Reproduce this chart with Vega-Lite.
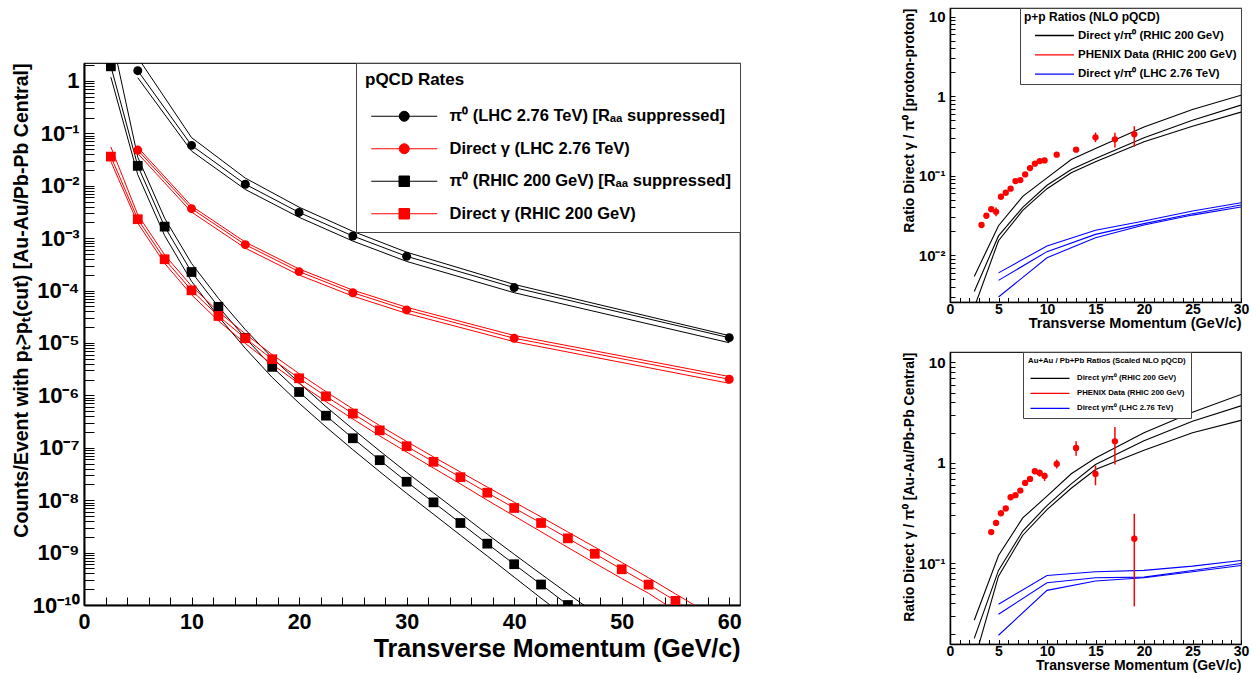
{
"$schema": "https://vega.github.io/schema/vega-lite/v6.json",
"background": "white",
"padding": {"left": 10, "top": 6, "right": 0, "bottom": 0},
"config": {
  "font": "Liberation Sans",
  "view": {"stroke": "#222222", "strokeWidth": 1.2},
  "axis": {"grid": false, "labelFont": "Liberation Sans", "titleFont": "Liberation Sans", "labelFontWeight": "bold", "titleFontWeight": "bold", "labelColor": "#000000", "titleColor": "#000000", "tickColor": "#000000", "domainColor": "#000000", "labelOverlap": false, "labelFlush": false, "tickWidth": 1},
  "legend": {"labelFont": "Liberation Sans", "titleFont": "Liberation Sans", "labelFontWeight": "bold", "titleFontWeight": "bold", "labelColor": "#000000", "titleColor": "#000000", "labelLimit": 600, "titleLimit": 600}
},
"datasets": {
"rates": [
{"series":"π⁰ (LHC 2.76 TeV) [Rₐₐ suppressed]","band":"upper","x":5,"y":2.8},
{"series":"π⁰ (LHC 2.76 TeV) [Rₐₐ suppressed]","band":"upper","x":10,"y":0.083},
{"series":"π⁰ (LHC 2.76 TeV) [Rₐₐ suppressed]","band":"upper","x":15,"y":0.014},
{"series":"π⁰ (LHC 2.76 TeV) [Rₐₐ suppressed]","band":"upper","x":20,"y":0.0039},
{"series":"π⁰ (LHC 2.76 TeV) [Rₐₐ suppressed]","band":"upper","x":25,"y":0.00135},
{"series":"π⁰ (LHC 2.76 TeV) [Rₐₐ suppressed]","band":"upper","x":30,"y":0.00054},
{"series":"π⁰ (LHC 2.76 TeV) [Rₐₐ suppressed]","band":"upper","x":40,"y":0.000131},
{"series":"π⁰ (LHC 2.76 TeV) [Rₐₐ suppressed]","band":"upper","x":60,"y":0.0000138},
{"series":"π⁰ (LHC 2.76 TeV) [Rₐₐ suppressed]","band":"central","x":5,"y":1.57},
{"series":"π⁰ (LHC 2.76 TeV) [Rₐₐ suppressed]","band":"central","x":10,"y":0.059},
{"series":"π⁰ (LHC 2.76 TeV) [Rₐₐ suppressed]","band":"central","x":15,"y":0.0107},
{"series":"π⁰ (LHC 2.76 TeV) [Rₐₐ suppressed]","band":"central","x":20,"y":0.0031},
{"series":"π⁰ (LHC 2.76 TeV) [Rₐₐ suppressed]","band":"central","x":25,"y":0.0011},
{"series":"π⁰ (LHC 2.76 TeV) [Rₐₐ suppressed]","band":"central","x":30,"y":0.00045},
{"series":"π⁰ (LHC 2.76 TeV) [Rₐₐ suppressed]","band":"central","x":40,"y":0.000114},
{"series":"π⁰ (LHC 2.76 TeV) [Rₐₐ suppressed]","band":"central","x":60,"y":0.0000126},
{"series":"π⁰ (LHC 2.76 TeV) [Rₐₐ suppressed]","band":"lower","x":5,"y":1.15},
{"series":"π⁰ (LHC 2.76 TeV) [Rₐₐ suppressed]","band":"lower","x":10,"y":0.046},
{"series":"π⁰ (LHC 2.76 TeV) [Rₐₐ suppressed]","band":"lower","x":15,"y":0.0085},
{"series":"π⁰ (LHC 2.76 TeV) [Rₐₐ suppressed]","band":"lower","x":20,"y":0.0025},
{"series":"π⁰ (LHC 2.76 TeV) [Rₐₐ suppressed]","band":"lower","x":25,"y":0.00088},
{"series":"π⁰ (LHC 2.76 TeV) [Rₐₐ suppressed]","band":"lower","x":30,"y":0.00036},
{"series":"π⁰ (LHC 2.76 TeV) [Rₐₐ suppressed]","band":"lower","x":40,"y":0.000091},
{"series":"π⁰ (LHC 2.76 TeV) [Rₐₐ suppressed]","band":"lower","x":60,"y":0.0000101},
{"series":"Direct γ (LHC 2.76 TeV)","band":"upper","x":5,"y":0.054},
{"series":"Direct γ (LHC 2.76 TeV)","band":"upper","x":10,"y":0.0041},
{"series":"Direct γ (LHC 2.76 TeV)","band":"upper","x":15,"y":0.00084},
{"series":"Direct γ (LHC 2.76 TeV)","band":"upper","x":20,"y":0.000258},
{"series":"Direct γ (LHC 2.76 TeV)","band":"upper","x":25,"y":0.000102},
{"series":"Direct γ (LHC 2.76 TeV)","band":"upper","x":30,"y":0.000048},
{"series":"Direct γ (LHC 2.76 TeV)","band":"upper","x":40,"y":0.0000139},
{"series":"Direct γ (LHC 2.76 TeV)","band":"upper","x":60,"y":0.00000229},
{"series":"Direct γ (LHC 2.76 TeV)","band":"central","x":5,"y":0.048},
{"series":"Direct γ (LHC 2.76 TeV)","band":"central","x":10,"y":0.00366},
{"series":"Direct γ (LHC 2.76 TeV)","band":"central","x":15,"y":0.00075},
{"series":"Direct γ (LHC 2.76 TeV)","band":"central","x":20,"y":0.00023},
{"series":"Direct γ (LHC 2.76 TeV)","band":"central","x":25,"y":0.000091},
{"series":"Direct γ (LHC 2.76 TeV)","band":"central","x":30,"y":0.0000427},
{"series":"Direct γ (LHC 2.76 TeV)","band":"central","x":40,"y":0.0000123},
{"series":"Direct γ (LHC 2.76 TeV)","band":"central","x":60,"y":0.00000203},
{"series":"Direct γ (LHC 2.76 TeV)","band":"lower","x":5,"y":0.0413},
{"series":"Direct γ (LHC 2.76 TeV)","band":"lower","x":10,"y":0.00315},
{"series":"Direct γ (LHC 2.76 TeV)","band":"lower","x":15,"y":0.000645},
{"series":"Direct γ (LHC 2.76 TeV)","band":"lower","x":20,"y":0.000198},
{"series":"Direct γ (LHC 2.76 TeV)","band":"lower","x":25,"y":0.0000783},
{"series":"Direct γ (LHC 2.76 TeV)","band":"lower","x":30,"y":0.0000367},
{"series":"Direct γ (LHC 2.76 TeV)","band":"lower","x":40,"y":0.0000106},
{"series":"Direct γ (LHC 2.76 TeV)","band":"lower","x":60,"y":0.0000017},
{"series":"π⁰ (RHIC 200 GeV) [Rₐₐ suppressed]","band":"upper","x":2.5,"y":8.2},
{"series":"π⁰ (RHIC 200 GeV) [Rₐₐ suppressed]","band":"upper","x":5,"y":0.035},
{"series":"π⁰ (RHIC 200 GeV) [Rₐₐ suppressed]","band":"upper","x":7.5,"y":0.0024},
{"series":"π⁰ (RHIC 200 GeV) [Rₐₐ suppressed]","band":"upper","x":10,"y":0.00033},
{"series":"π⁰ (RHIC 200 GeV) [Rₐₐ suppressed]","band":"upper","x":12.5,"y":0.000071},
{"series":"π⁰ (RHIC 200 GeV) [Rₐₐ suppressed]","band":"upper","x":15,"y":0.000018},
{"series":"π⁰ (RHIC 200 GeV) [Rₐₐ suppressed]","band":"upper","x":17.5,"y":0.0000052},
{"series":"π⁰ (RHIC 200 GeV) [Rₐₐ suppressed]","band":"upper","x":20,"y":0.00000174},
{"series":"π⁰ (RHIC 200 GeV) [Rₐₐ suppressed]","band":"upper","x":22.5,"y":6.1e-7},
{"series":"π⁰ (RHIC 200 GeV) [Rₐₐ suppressed]","band":"upper","x":25,"y":2.28e-7},
{"series":"π⁰ (RHIC 200 GeV) [Rₐₐ suppressed]","band":"upper","x":27.5,"y":8.7e-8},
{"series":"π⁰ (RHIC 200 GeV) [Rₐₐ suppressed]","band":"upper","x":30,"y":3.4e-8},
{"series":"π⁰ (RHIC 200 GeV) [Rₐₐ suppressed]","band":"upper","x":32.5,"y":1.38e-8},
{"series":"π⁰ (RHIC 200 GeV) [Rₐₐ suppressed]","band":"upper","x":35,"y":5.6e-9},
{"series":"π⁰ (RHIC 200 GeV) [Rₐₐ suppressed]","band":"upper","x":37.5,"y":2.25e-9},
{"series":"π⁰ (RHIC 200 GeV) [Rₐₐ suppressed]","band":"upper","x":40,"y":9.3e-10},
{"series":"π⁰ (RHIC 200 GeV) [Rₐₐ suppressed]","band":"upper","x":42.5,"y":3.9e-10},
{"series":"π⁰ (RHIC 200 GeV) [Rₐₐ suppressed]","band":"upper","x":45,"y":1.65e-10},
{"series":"π⁰ (RHIC 200 GeV) [Rₐₐ suppressed]","band":"upper","x":47.5,"y":7.0e-11},
{"series":"π⁰ (RHIC 200 GeV) [Rₐₐ suppressed]","band":"central","x":2.5,"y":1.9},
{"series":"π⁰ (RHIC 200 GeV) [Rₐₐ suppressed]","band":"central","x":5,"y":0.024},
{"series":"π⁰ (RHIC 200 GeV) [Rₐₐ suppressed]","band":"central","x":7.5,"y":0.00166},
{"series":"π⁰ (RHIC 200 GeV) [Rₐₐ suppressed]","band":"central","x":10,"y":0.000226},
{"series":"π⁰ (RHIC 200 GeV) [Rₐₐ suppressed]","band":"central","x":12.5,"y":0.000049},
{"series":"π⁰ (RHIC 200 GeV) [Rₐₐ suppressed]","band":"central","x":15,"y":0.0000125},
{"series":"π⁰ (RHIC 200 GeV) [Rₐₐ suppressed]","band":"central","x":17.5,"y":0.0000035},
{"series":"π⁰ (RHIC 200 GeV) [Rₐₐ suppressed]","band":"central","x":20,"y":0.00000116},
{"series":"π⁰ (RHIC 200 GeV) [Rₐₐ suppressed]","band":"central","x":22.5,"y":4.1e-7},
{"series":"π⁰ (RHIC 200 GeV) [Rₐₐ suppressed]","band":"central","x":25,"y":1.52e-7},
{"series":"π⁰ (RHIC 200 GeV) [Rₐₐ suppressed]","band":"central","x":27.5,"y":5.8e-8},
{"series":"π⁰ (RHIC 200 GeV) [Rₐₐ suppressed]","band":"central","x":30,"y":2.25e-8},
{"series":"π⁰ (RHIC 200 GeV) [Rₐₐ suppressed]","band":"central","x":32.5,"y":9.1e-9},
{"series":"π⁰ (RHIC 200 GeV) [Rₐₐ suppressed]","band":"central","x":35,"y":3.67e-9},
{"series":"π⁰ (RHIC 200 GeV) [Rₐₐ suppressed]","band":"central","x":37.5,"y":1.48e-9},
{"series":"π⁰ (RHIC 200 GeV) [Rₐₐ suppressed]","band":"central","x":40,"y":6.0e-10},
{"series":"π⁰ (RHIC 200 GeV) [Rₐₐ suppressed]","band":"central","x":42.5,"y":2.46e-10},
{"series":"π⁰ (RHIC 200 GeV) [Rₐₐ suppressed]","band":"central","x":45,"y":1.0e-10},
{"series":"π⁰ (RHIC 200 GeV) [Rₐₐ suppressed]","band":"lower","x":2.5,"y":1.18},
{"series":"π⁰ (RHIC 200 GeV) [Rₐₐ suppressed]","band":"lower","x":5,"y":0.0163},
{"series":"π⁰ (RHIC 200 GeV) [Rₐₐ suppressed]","band":"lower","x":7.5,"y":0.00112},
{"series":"π⁰ (RHIC 200 GeV) [Rₐₐ suppressed]","band":"lower","x":10,"y":0.00015},
{"series":"π⁰ (RHIC 200 GeV) [Rₐₐ suppressed]","band":"lower","x":12.5,"y":0.000032},
{"series":"π⁰ (RHIC 200 GeV) [Rₐₐ suppressed]","band":"lower","x":15,"y":0.0000079},
{"series":"π⁰ (RHIC 200 GeV) [Rₐₐ suppressed]","band":"lower","x":17.5,"y":0.0000022},
{"series":"π⁰ (RHIC 200 GeV) [Rₐₐ suppressed]","band":"lower","x":20,"y":7.1e-7},
{"series":"π⁰ (RHIC 200 GeV) [Rₐₐ suppressed]","band":"lower","x":22.5,"y":2.5e-7},
{"series":"π⁰ (RHIC 200 GeV) [Rₐₐ suppressed]","band":"lower","x":25,"y":9.2e-8},
{"series":"π⁰ (RHIC 200 GeV) [Rₐₐ suppressed]","band":"lower","x":27.5,"y":3.5e-8},
{"series":"π⁰ (RHIC 200 GeV) [Rₐₐ suppressed]","band":"lower","x":30,"y":1.35e-8},
{"series":"π⁰ (RHIC 200 GeV) [Rₐₐ suppressed]","band":"lower","x":32.5,"y":5.4e-9},
{"series":"π⁰ (RHIC 200 GeV) [Rₐₐ suppressed]","band":"lower","x":35,"y":2.15e-9},
{"series":"π⁰ (RHIC 200 GeV) [Rₐₐ suppressed]","band":"lower","x":37.5,"y":8.6e-10},
{"series":"π⁰ (RHIC 200 GeV) [Rₐₐ suppressed]","band":"lower","x":40,"y":3.4e-10},
{"series":"π⁰ (RHIC 200 GeV) [Rₐₐ suppressed]","band":"lower","x":42.5,"y":1.35e-10},
{"series":"π⁰ (RHIC 200 GeV) [Rₐₐ suppressed]","band":"lower","x":45,"y":5.5e-11},
{"series":"Direct γ (RHIC 200 GeV)","band":"upper","x":2.5,"y":0.055},
{"series":"Direct γ (RHIC 200 GeV)","band":"upper","x":5,"y":0.0028},
{"series":"Direct γ (RHIC 200 GeV)","band":"upper","x":7.5,"y":0.00048},
{"series":"Direct γ (RHIC 200 GeV)","band":"upper","x":10,"y":0.000122},
{"series":"Direct γ (RHIC 200 GeV)","band":"upper","x":12.5,"y":0.0000395},
{"series":"Direct γ (RHIC 200 GeV)","band":"upper","x":15,"y":0.0000149},
{"series":"Direct γ (RHIC 200 GeV)","band":"upper","x":17.5,"y":0.000006},
{"series":"Direct γ (RHIC 200 GeV)","band":"upper","x":20,"y":0.0000026},
{"series":"Direct γ (RHIC 200 GeV)","band":"upper","x":22.5,"y":0.00000118},
{"series":"Direct γ (RHIC 200 GeV)","band":"upper","x":25,"y":5.5e-7},
{"series":"Direct γ (RHIC 200 GeV)","band":"upper","x":27.5,"y":2.65e-7},
{"series":"Direct γ (RHIC 200 GeV)","band":"upper","x":30,"y":1.32e-7},
{"series":"Direct γ (RHIC 200 GeV)","band":"upper","x":32.5,"y":6.7e-8},
{"series":"Direct γ (RHIC 200 GeV)","band":"upper","x":35,"y":3.45e-8},
{"series":"Direct γ (RHIC 200 GeV)","band":"upper","x":37.5,"y":1.78e-8},
{"series":"Direct γ (RHIC 200 GeV)","band":"upper","x":40,"y":9.2e-9},
{"series":"Direct γ (RHIC 200 GeV)","band":"upper","x":42.5,"y":4.8e-9},
{"series":"Direct γ (RHIC 200 GeV)","band":"upper","x":45,"y":2.47e-9},
{"series":"Direct γ (RHIC 200 GeV)","band":"upper","x":47.5,"y":1.27e-9},
{"series":"Direct γ (RHIC 200 GeV)","band":"upper","x":50,"y":6.5e-10},
{"series":"Direct γ (RHIC 200 GeV)","band":"upper","x":52.5,"y":3.3e-10},
{"series":"Direct γ (RHIC 200 GeV)","band":"upper","x":55,"y":1.63e-10},
{"series":"Direct γ (RHIC 200 GeV)","band":"upper","x":57.5,"y":8.1e-11},
{"series":"Direct γ (RHIC 200 GeV)","band":"central","x":2.5,"y":0.036},
{"series":"Direct γ (RHIC 200 GeV)","band":"central","x":5,"y":0.0023},
{"series":"Direct γ (RHIC 200 GeV)","band":"central","x":7.5,"y":0.000396},
{"series":"Direct γ (RHIC 200 GeV)","band":"central","x":10,"y":0.000101},
{"series":"Direct γ (RHIC 200 GeV)","band":"central","x":12.5,"y":0.0000327},
{"series":"Direct γ (RHIC 200 GeV)","band":"central","x":15,"y":0.0000123},
{"series":"Direct γ (RHIC 200 GeV)","band":"central","x":17.5,"y":0.0000049},
{"series":"Direct γ (RHIC 200 GeV)","band":"central","x":20,"y":0.00000212},
{"series":"Direct γ (RHIC 200 GeV)","band":"central","x":22.5,"y":9.6e-7},
{"series":"Direct γ (RHIC 200 GeV)","band":"central","x":25,"y":4.5e-7},
{"series":"Direct γ (RHIC 200 GeV)","band":"central","x":27.5,"y":2.15e-7},
{"series":"Direct γ (RHIC 200 GeV)","band":"central","x":30,"y":1.07e-7},
{"series":"Direct γ (RHIC 200 GeV)","band":"central","x":32.5,"y":5.4e-8},
{"series":"Direct γ (RHIC 200 GeV)","band":"central","x":35,"y":2.75e-8},
{"series":"Direct γ (RHIC 200 GeV)","band":"central","x":37.5,"y":1.39e-8},
{"series":"Direct γ (RHIC 200 GeV)","band":"central","x":40,"y":7.1e-9},
{"series":"Direct γ (RHIC 200 GeV)","band":"central","x":42.5,"y":3.67e-9},
{"series":"Direct γ (RHIC 200 GeV)","band":"central","x":45,"y":1.87e-9},
{"series":"Direct γ (RHIC 200 GeV)","band":"central","x":47.5,"y":9.5e-10},
{"series":"Direct γ (RHIC 200 GeV)","band":"central","x":50,"y":4.8e-10},
{"series":"Direct γ (RHIC 200 GeV)","band":"central","x":52.5,"y":2.45e-10},
{"series":"Direct γ (RHIC 200 GeV)","band":"central","x":55,"y":1.2e-10},
{"series":"Direct γ (RHIC 200 GeV)","band":"lower","x":2.5,"y":0.029},
{"series":"Direct γ (RHIC 200 GeV)","band":"lower","x":5,"y":0.00193},
{"series":"Direct γ (RHIC 200 GeV)","band":"lower","x":7.5,"y":0.00033},
{"series":"Direct γ (RHIC 200 GeV)","band":"lower","x":10,"y":0.000083},
{"series":"Direct γ (RHIC 200 GeV)","band":"lower","x":12.5,"y":0.0000265},
{"series":"Direct γ (RHIC 200 GeV)","band":"lower","x":15,"y":0.0000098},
{"series":"Direct γ (RHIC 200 GeV)","band":"lower","x":17.5,"y":0.0000039},
{"series":"Direct γ (RHIC 200 GeV)","band":"lower","x":20,"y":0.00000168},
{"series":"Direct γ (RHIC 200 GeV)","band":"lower","x":22.5,"y":7.6e-7},
{"series":"Direct γ (RHIC 200 GeV)","band":"lower","x":25,"y":3.55e-7},
{"series":"Direct γ (RHIC 200 GeV)","band":"lower","x":27.5,"y":1.68e-7},
{"series":"Direct γ (RHIC 200 GeV)","band":"lower","x":30,"y":8.3e-8},
{"series":"Direct γ (RHIC 200 GeV)","band":"lower","x":32.5,"y":4.1e-8},
{"series":"Direct γ (RHIC 200 GeV)","band":"lower","x":35,"y":2.05e-8},
{"series":"Direct γ (RHIC 200 GeV)","band":"lower","x":37.5,"y":1.0e-8},
{"series":"Direct γ (RHIC 200 GeV)","band":"lower","x":40,"y":5.0e-9},
{"series":"Direct γ (RHIC 200 GeV)","band":"lower","x":42.5,"y":2.5e-9},
{"series":"Direct γ (RHIC 200 GeV)","band":"lower","x":45,"y":1.25e-9},
{"series":"Direct γ (RHIC 200 GeV)","band":"lower","x":47.5,"y":6.3e-10},
{"series":"Direct γ (RHIC 200 GeV)","band":"lower","x":50,"y":3.2e-10},
{"series":"Direct γ (RHIC 200 GeV)","band":"lower","x":52.5,"y":1.67e-10},
{"series":"Direct γ (RHIC 200 GeV)","band":"lower","x":55,"y":7.8e-11}
],
"pp": [
{"curve":"Direct γ/π⁰ (RHIC 200 GeV)","band":"upper","x":2.5,"y":0.0054},
{"curve":"Direct γ/π⁰ (RHIC 200 GeV)","band":"upper","x":5,"y":0.0235},
{"curve":"Direct γ/π⁰ (RHIC 200 GeV)","band":"upper","x":7.5,"y":0.055},
{"curve":"Direct γ/π⁰ (RHIC 200 GeV)","band":"upper","x":10,"y":0.094},
{"curve":"Direct γ/π⁰ (RHIC 200 GeV)","band":"upper","x":12.5,"y":0.16},
{"curve":"Direct γ/π⁰ (RHIC 200 GeV)","band":"upper","x":15,"y":0.22},
{"curve":"Direct γ/π⁰ (RHIC 200 GeV)","band":"upper","x":20,"y":0.41},
{"curve":"Direct γ/π⁰ (RHIC 200 GeV)","band":"upper","x":25,"y":0.68},
{"curve":"Direct γ/π⁰ (RHIC 200 GeV)","band":"upper","x":30,"y":1.03},
{"curve":"Direct γ/π⁰ (RHIC 200 GeV)","band":"central","x":2.5,"y":0.0035},
{"curve":"Direct γ/π⁰ (RHIC 200 GeV)","band":"central","x":5,"y":0.0175},
{"curve":"Direct γ/π⁰ (RHIC 200 GeV)","band":"central","x":7.5,"y":0.04},
{"curve":"Direct γ/π⁰ (RHIC 200 GeV)","band":"central","x":10,"y":0.076},
{"curve":"Direct γ/π⁰ (RHIC 200 GeV)","band":"central","x":12.5,"y":0.12},
{"curve":"Direct γ/π⁰ (RHIC 200 GeV)","band":"central","x":15,"y":0.165},
{"curve":"Direct γ/π⁰ (RHIC 200 GeV)","band":"central","x":20,"y":0.3},
{"curve":"Direct γ/π⁰ (RHIC 200 GeV)","band":"central","x":25,"y":0.5},
{"curve":"Direct γ/π⁰ (RHIC 200 GeV)","band":"central","x":30,"y":0.775},
{"curve":"Direct γ/π⁰ (RHIC 200 GeV)","band":"lower","x":2.5,"y":0.0022},
{"curve":"Direct γ/π⁰ (RHIC 200 GeV)","band":"lower","x":5,"y":0.0152},
{"curve":"Direct γ/π⁰ (RHIC 200 GeV)","band":"lower","x":7.5,"y":0.0367},
{"curve":"Direct γ/π⁰ (RHIC 200 GeV)","band":"lower","x":10,"y":0.0687},
{"curve":"Direct γ/π⁰ (RHIC 200 GeV)","band":"lower","x":12.5,"y":0.109},
{"curve":"Direct γ/π⁰ (RHIC 200 GeV)","band":"lower","x":15,"y":0.15},
{"curve":"Direct γ/π⁰ (RHIC 200 GeV)","band":"lower","x":20,"y":0.268},
{"curve":"Direct γ/π⁰ (RHIC 200 GeV)","band":"lower","x":25,"y":0.42},
{"curve":"Direct γ/π⁰ (RHIC 200 GeV)","band":"lower","x":30,"y":0.633},
{"curve":"Direct γ/π⁰ (LHC 2.76 TeV)","band":"upper","x":5,"y":0.006},
{"curve":"Direct γ/π⁰ (LHC 2.76 TeV)","band":"upper","x":10,"y":0.0131},
{"curve":"Direct γ/π⁰ (LHC 2.76 TeV)","band":"upper","x":15,"y":0.0206},
{"curve":"Direct γ/π⁰ (LHC 2.76 TeV)","band":"upper","x":20,"y":0.0269},
{"curve":"Direct γ/π⁰ (LHC 2.76 TeV)","band":"upper","x":25,"y":0.036},
{"curve":"Direct γ/π⁰ (LHC 2.76 TeV)","band":"upper","x":30,"y":0.0457},
{"curve":"Direct γ/π⁰ (LHC 2.76 TeV)","band":"central","x":5,"y":0.00483},
{"curve":"Direct γ/π⁰ (LHC 2.76 TeV)","band":"central","x":10,"y":0.0111},
{"curve":"Direct γ/π⁰ (LHC 2.76 TeV)","band":"central","x":15,"y":0.0183},
{"curve":"Direct γ/π⁰ (LHC 2.76 TeV)","band":"central","x":20,"y":0.025},
{"curve":"Direct γ/π⁰ (LHC 2.76 TeV)","band":"central","x":25,"y":0.0333},
{"curve":"Direct γ/π⁰ (LHC 2.76 TeV)","band":"central","x":30,"y":0.0428},
{"curve":"Direct γ/π⁰ (LHC 2.76 TeV)","band":"lower","x":5,"y":0.00298},
{"curve":"Direct γ/π⁰ (LHC 2.76 TeV)","band":"lower","x":10,"y":0.0093},
{"curve":"Direct γ/π⁰ (LHC 2.76 TeV)","band":"lower","x":15,"y":0.0166},
{"curve":"Direct γ/π⁰ (LHC 2.76 TeV)","band":"lower","x":20,"y":0.024},
{"curve":"Direct γ/π⁰ (LHC 2.76 TeV)","band":"lower","x":25,"y":0.032},
{"curve":"Direct γ/π⁰ (LHC 2.76 TeV)","band":"lower","x":30,"y":0.0404},
{"curve":"PHENIX Data (RHIC 200 GeV)","band":"data","x":3.25,"y":0.024,"lo":0.023,"hi":0.025},
{"curve":"PHENIX Data (RHIC 200 GeV)","band":"data","x":3.75,"y":0.0314,"lo":0.030,"hi":0.033},
{"curve":"PHENIX Data (RHIC 200 GeV)","band":"data","x":4.25,"y":0.038,"lo":0.036,"hi":0.040},
{"curve":"PHENIX Data (RHIC 200 GeV)","band":"data","x":4.75,"y":0.0352,"lo":0.031,"hi":0.040},
{"curve":"PHENIX Data (RHIC 200 GeV)","band":"data","x":5.25,"y":0.0544,"lo":0.052,"hi":0.057},
{"curve":"PHENIX Data (RHIC 200 GeV)","band":"data","x":5.75,"y":0.0611,"lo":0.058,"hi":0.064},
{"curve":"PHENIX Data (RHIC 200 GeV)","band":"data","x":6.25,"y":0.0687,"lo":0.065,"hi":0.072},
{"curve":"PHENIX Data (RHIC 200 GeV)","band":"data","x":6.75,"y":0.0858,"lo":0.082,"hi":0.09},
{"curve":"PHENIX Data (RHIC 200 GeV)","band":"data","x":7.25,"y":0.0883,"lo":0.084,"hi":0.093},
{"curve":"PHENIX Data (RHIC 200 GeV)","band":"data","x":7.75,"y":0.104,"lo":0.099,"hi":0.109},
{"curve":"PHENIX Data (RHIC 200 GeV)","band":"data","x":8.25,"y":0.125,"lo":0.119,"hi":0.131},
{"curve":"PHENIX Data (RHIC 200 GeV)","band":"data","x":8.75,"y":0.142,"lo":0.135,"hi":0.149},
{"curve":"PHENIX Data (RHIC 200 GeV)","band":"data","x":9.25,"y":0.153,"lo":0.145,"hi":0.161},
{"curve":"PHENIX Data (RHIC 200 GeV)","band":"data","x":9.75,"y":0.156,"lo":0.148,"hi":0.164},
{"curve":"PHENIX Data (RHIC 200 GeV)","band":"data","x":11,"y":0.184,"lo":0.175,"hi":0.193},
{"curve":"PHENIX Data (RHIC 200 GeV)","band":"data","x":13,"y":0.213,"lo":0.202,"hi":0.224},
{"curve":"PHENIX Data (RHIC 200 GeV)","band":"data","x":15,"y":0.304,"lo":0.265,"hi":0.35},
{"curve":"PHENIX Data (RHIC 200 GeV)","band":"data","x":17,"y":0.287,"lo":0.226,"hi":0.348},
{"curve":"PHENIX Data (RHIC 200 GeV)","band":"data","x":19,"y":0.332,"lo":0.232,"hi":0.42}
],
"aa": [
{"curve":"Direct γ/π⁰ (RHIC 200 GeV)","band":"upper","x":2.5,"y":0.0272},
{"curve":"Direct γ/π⁰ (RHIC 200 GeV)","band":"upper","x":5,"y":0.12},
{"curve":"Direct γ/π⁰ (RHIC 200 GeV)","band":"upper","x":7.5,"y":0.284},
{"curve":"Direct γ/π⁰ (RHIC 200 GeV)","band":"upper","x":10,"y":0.467},
{"curve":"Direct γ/π⁰ (RHIC 200 GeV)","band":"upper","x":12.5,"y":0.78},
{"curve":"Direct γ/π⁰ (RHIC 200 GeV)","band":"upper","x":15,"y":1.12},
{"curve":"Direct γ/π⁰ (RHIC 200 GeV)","band":"upper","x":20,"y":2.0},
{"curve":"Direct γ/π⁰ (RHIC 200 GeV)","band":"upper","x":25,"y":3.2},
{"curve":"Direct γ/π⁰ (RHIC 200 GeV)","band":"upper","x":30,"y":4.8},
{"curve":"Direct γ/π⁰ (RHIC 200 GeV)","band":"central","x":2.5,"y":0.018},
{"curve":"Direct γ/π⁰ (RHIC 200 GeV)","band":"central","x":5,"y":0.0853},
{"curve":"Direct γ/π⁰ (RHIC 200 GeV)","band":"central","x":7.5,"y":0.21},
{"curve":"Direct γ/π⁰ (RHIC 200 GeV)","band":"central","x":10,"y":0.377},
{"curve":"Direct γ/π⁰ (RHIC 200 GeV)","band":"central","x":12.5,"y":0.62},
{"curve":"Direct γ/π⁰ (RHIC 200 GeV)","band":"central","x":15,"y":0.964},
{"curve":"Direct γ/π⁰ (RHIC 200 GeV)","band":"central","x":20,"y":1.66},
{"curve":"Direct γ/π⁰ (RHIC 200 GeV)","band":"central","x":25,"y":2.6},
{"curve":"Direct γ/π⁰ (RHIC 200 GeV)","band":"central","x":30,"y":3.7},
{"curve":"Direct γ/π⁰ (RHIC 200 GeV)","band":"lower","x":2.5,"y":0.0107},
{"curve":"Direct γ/π⁰ (RHIC 200 GeV)","band":"lower","x":5,"y":0.0748},
{"curve":"Direct γ/π⁰ (RHIC 200 GeV)","band":"lower","x":7.5,"y":0.191},
{"curve":"Direct γ/π⁰ (RHIC 200 GeV)","band":"lower","x":10,"y":0.344},
{"curve":"Direct γ/π⁰ (RHIC 200 GeV)","band":"lower","x":12.5,"y":0.56},
{"curve":"Direct γ/π⁰ (RHIC 200 GeV)","band":"lower","x":15,"y":0.86},
{"curve":"Direct γ/π⁰ (RHIC 200 GeV)","band":"lower","x":20,"y":1.34},
{"curve":"Direct γ/π⁰ (RHIC 200 GeV)","band":"lower","x":25,"y":2.0},
{"curve":"Direct γ/π⁰ (RHIC 200 GeV)","band":"lower","x":30,"y":2.65},
{"curve":"Direct γ/π⁰ (LHC 2.76 TeV)","band":"upper","x":5,"y":0.0392},
{"curve":"Direct γ/π⁰ (LHC 2.76 TeV)","band":"upper","x":10,"y":0.076},
{"curve":"Direct γ/π⁰ (LHC 2.76 TeV)","band":"upper","x":15,"y":0.0826},
{"curve":"Direct γ/π⁰ (LHC 2.76 TeV)","band":"upper","x":20,"y":0.0853},
{"curve":"Direct γ/π⁰ (LHC 2.76 TeV)","band":"upper","x":25,"y":0.094},
{"curve":"Direct γ/π⁰ (LHC 2.76 TeV)","band":"upper","x":30,"y":0.107},
{"curve":"Direct γ/π⁰ (LHC 2.76 TeV)","band":"central","x":5,"y":0.0312},
{"curve":"Direct γ/π⁰ (LHC 2.76 TeV)","band":"central","x":10,"y":0.0643},
{"curve":"Direct γ/π⁰ (LHC 2.76 TeV)","band":"central","x":15,"y":0.072},
{"curve":"Direct γ/π⁰ (LHC 2.76 TeV)","band":"central","x":20,"y":0.0731},
{"curve":"Direct γ/π⁰ (LHC 2.76 TeV)","band":"central","x":25,"y":0.085},
{"curve":"Direct γ/π⁰ (LHC 2.76 TeV)","band":"central","x":30,"y":0.1},
{"curve":"Direct γ/π⁰ (LHC 2.76 TeV)","band":"lower","x":5,"y":0.0193},
{"curve":"Direct γ/π⁰ (LHC 2.76 TeV)","band":"lower","x":10,"y":0.054},
{"curve":"Direct γ/π⁰ (LHC 2.76 TeV)","band":"lower","x":15,"y":0.0668},
{"curve":"Direct γ/π⁰ (LHC 2.76 TeV)","band":"lower","x":20,"y":0.072},
{"curve":"Direct γ/π⁰ (LHC 2.76 TeV)","band":"lower","x":25,"y":0.0826},
{"curve":"Direct γ/π⁰ (LHC 2.76 TeV)","band":"lower","x":30,"y":0.0955},
{"curve":"PHENIX Data (RHIC 200 GeV)","band":"data","x":4.25,"y":0.205,"lo":0.196,"hi":0.214},
{"curve":"PHENIX Data (RHIC 200 GeV)","band":"data","x":4.75,"y":0.253,"lo":0.242,"hi":0.264},
{"curve":"PHENIX Data (RHIC 200 GeV)","band":"data","x":5.25,"y":0.316,"lo":0.302,"hi":0.33},
{"curve":"PHENIX Data (RHIC 200 GeV)","band":"data","x":5.75,"y":0.352,"lo":0.336,"hi":0.368},
{"curve":"PHENIX Data (RHIC 200 GeV)","band":"data","x":6.25,"y":0.456,"lo":0.436,"hi":0.476},
{"curve":"PHENIX Data (RHIC 200 GeV)","band":"data","x":6.75,"y":0.478,"lo":0.457,"hi":0.5},
{"curve":"PHENIX Data (RHIC 200 GeV)","band":"data","x":7.25,"y":0.531,"lo":0.508,"hi":0.555},
{"curve":"PHENIX Data (RHIC 200 GeV)","band":"data","x":7.75,"y":0.633,"lo":0.605,"hi":0.661},
{"curve":"PHENIX Data (RHIC 200 GeV)","band":"data","x":8.25,"y":0.694,"lo":0.663,"hi":0.725},
{"curve":"PHENIX Data (RHIC 200 GeV)","band":"data","x":8.75,"y":0.827,"lo":0.77,"hi":0.88},
{"curve":"PHENIX Data (RHIC 200 GeV)","band":"data","x":9.25,"y":0.796,"lo":0.73,"hi":0.86},
{"curve":"PHENIX Data (RHIC 200 GeV)","band":"data","x":9.75,"y":0.743,"lo":0.66,"hi":0.8},
{"curve":"PHENIX Data (RHIC 200 GeV)","band":"data","x":11,"y":0.977,"lo":0.88,"hi":1.08},
{"curve":"PHENIX Data (RHIC 200 GeV)","band":"data","x":13,"y":1.41,"lo":1.18,"hi":1.64},
{"curve":"PHENIX Data (RHIC 200 GeV)","band":"data","x":15,"y":0.778,"lo":0.6,"hi":0.942},
{"curve":"PHENIX Data (RHIC 200 GeV)","band":"data","x":17,"y":1.64,"lo":0.964,"hi":2.28},
{"curve":"PHENIX Data (RHIC 200 GeV)","band":"data","x":19,"y":0.176,"lo":0.0374,"hi":0.312}
]
},
"spacing": 159,
"resolve": {"scale": {"color": "independent"}, "legend": {"color": "independent"}},
"hconcat": [
{
  "vconcat": [
    {"width": 656, "height": 50, "data": {"values": []}, "mark": {"type": "point"}, "view": {"stroke": null}},
    {
      "width": 656, "height": 542,
      "data": {"name": "rates"},
      "encoding": {
        "x": {"field": "x", "type": "quantitative", "scale": {"domain": [0, 61], "nice": false, "zero": false},
          "axis": {"title": "Transverse Momentum (GeV/c)", "titleAnchor": "end", "titleFontSize": 25, "titlePadding": 4, "labelFontSize": 21.5, "labelPadding": 14, "domainWidth": 2, "tickSize": -8,
            "values": [0,2,4,6,8,10,12,14,16,18,20,22,24,26,28,30,32,34,36,38,40,42,44,46,48,50,52,54,56,58,60],
            "labelExpr": "datum.value % 10 == 0 ? datum.label : ''",
            "encode": {"ticks": {"update": {"y2": {"signal": "datum.value % 10 == 0 ? -15 : -8"}}}}}},
        "y": {"field": "y", "type": "quantitative", "scale": {"type": "log", "domain": [1e-10, 2.2], "nice": false},
          "axis": {"title": "Counts/Event with pₜ>pₜ(cut) [Au-Au/Pb-Pb Central]", "titleAnchor": "end", "titleFontSize": 19.5, "titlePadding": 1, "labelFontSize": 22, "labelPadding": 15, "domainWidth": 2, "tickSize": -10,
            "values": [1e-10,2e-10,3e-10,4e-10,5e-10,6e-10,7e-10,8e-10,9e-10,1e-9,2e-9,3e-9,4e-9,5e-9,6e-9,7e-9,8e-9,9e-9,1e-8,2e-8,3e-8,4e-8,5e-8,6e-8,7e-8,8e-8,9e-8,1e-7,2e-7,3e-7,4e-7,5e-7,6e-7,7e-7,8e-7,9e-7,1e-6,2e-6,3e-6,4e-6,5e-6,6e-6,7e-6,8e-6,9e-6,1e-5,2e-5,3e-5,4e-5,5e-5,6e-5,7e-5,8e-5,9e-5,1e-4,2e-4,3e-4,4e-4,5e-4,6e-4,7e-4,8e-4,9e-4,0.001,0.002,0.003,0.004,0.005,0.006,0.007,0.008,0.009,0.01,0.02,0.03,0.04,0.05,0.06,0.07,0.08,0.09,0.1,0.2,0.3,0.4,0.5,0.6,0.7,0.8,0.9,1,2],
            "labelExpr": "abs(log(datum.value)/LN10 - round(log(datum.value)/LN10)) < 0.001 ? ['10⁻¹⁰','10⁻⁹','10⁻⁸','10⁻⁷','10⁻⁶','10⁻⁵','10⁻⁴','10⁻³','10⁻²','10⁻¹','1','10'][round(log(datum.value)/LN10)+10] : ''",
            "encode": {"ticks": {"update": {"x2": {"signal": "abs(log(datum.value)/LN10 - round(log(datum.value)/LN10)) < 0.001 ? 20 : 10"}}}}}},
        "color": {"field": "series", "type": "nominal",
          "scale": {"domain": ["π⁰ (LHC 2.76 TeV) [Rₐₐ suppressed]", "Direct γ (LHC 2.76 TeV)", "π⁰ (RHIC 200 GeV) [Rₐₐ suppressed]", "Direct γ (RHIC 200 GeV)"], "range": ["#000000", "#ff0000", "#000000", "#ff0000"]},
          "legend": {"orient": "top-right", "offset": 0, "title": "pQCD Rates", "titleFontSize": 17, "titlePadding": 19, "padding": 9,
            "labelFontSize": 16.5, "rowPadding": 15.5, "symbolSize": 100, "symbolOffset": 31, "labelOffset": 37,
            "fillColor": "#ffffff", "strokeColor": "#444444",
            "encode": {"symbols": {"update": {
              "shape": {"signal": "indexof(datum.value,'RHIC') >= 0 ? 'M-6.6,0L6.6,0M-1.05,-1.05H1.05V1.05H-1.05Z' : 'M-6.6,0L6.6,0M-1,0A1,1,0,1,1,1,0A1,1,0,1,1,-1,0Z'"},
              "fill": {"signal": "indexof(datum.value,'Direct') >= 0 ? '#ff0000' : '#000000'"},
              "stroke": {"signal": "indexof(datum.value,'Direct') >= 0 ? '#ff0000' : '#000000'"},
              "strokeWidth": {"value": 1}, "size": {"value": 100}, "opacity": {"value": 1}}}}}}
      },
      "layer": [
        {"mark": {"type": "line", "clip": true, "strokeWidth": 1}, "encoding": {"detail": {"field": "band"}}},
        {"transform": [{"filter": "datum.band == 'central' && indexof(datum.series, 'LHC') >= 0"}],
         "mark": {"type": "point", "shape": "circle", "filled": true, "opacity": 1, "size": 80, "clip": true}},
        {"transform": [{"filter": "datum.band == 'central' && indexof(datum.series, 'RHIC') >= 0"}],
         "mark": {"type": "point", "shape": "square", "filled": true, "opacity": 1, "size": 95, "clip": true}}
      ]
    }
  ],
  "spacing": 5,
  "bounds": "flush",
  "resolve": {"scale": {"color": "independent"}, "legend": {"color": "independent"}}
},
{
  "vconcat": [
    {
      "width": 291, "height": 294,
      "data": {"name": "pp"},
      "encoding": {
        "x": {"field": "x", "type": "quantitative", "scale": {"domain": [0, 30], "nice": false, "zero": false},
          "axis": {"title": "Transverse Momentum (GeV/c)", "titleAnchor": "end", "titleFontSize": 14.5, "titlePadding": 0, "labelFontSize": 14, "labelPadding": 5, "domainWidth": 1.5, "tickSize": -4.5,
            "values": [0,1,2,3,4,5,6,7,8,9,10,11,12,13,14,15,16,17,18,19,20,21,22,23,24,25,26,27,28,29,30],
            "labelExpr": "datum.value % 5 == 0 ? datum.label : ''",
            "encode": {"ticks": {"update": {"y2": {"signal": "datum.value % 5 == 0 ? -9 : -4.5"}}}}}},
        "y": {"field": "y", "type": "quantitative", "scale": {"type": "log", "domain": [0.00258, 12.9], "nice": false},
          "axis": {"title": "Ratio Direct γ / π⁰ [proton-proton]", "titleAnchor": "end", "titleFontSize": 14, "titlePadding": 2, "labelFontSize": 15, "labelPadding": 10, "domainWidth": 1.5, "tickSize": -5,
            "values": [0.003,0.004,0.005,0.006,0.007,0.008,0.009,0.01,0.02,0.03,0.04,0.05,0.06,0.07,0.08,0.09,0.1,0.2,0.3,0.4,0.5,0.6,0.7,0.8,0.9,1,2,3,4,5,6,7,8,9,10],
            "labelExpr": "abs(log(datum.value)/LN10 - round(log(datum.value)/LN10)) < 0.001 ? ['10⁻²','10⁻¹','1','10'][round(log(datum.value)/LN10)+2] : ''",
            "encode": {"ticks": {"update": {"x2": {"signal": "abs(log(datum.value)/LN10 - round(log(datum.value)/LN10)) < 0.001 ? 9 : 5"}}}}}},
        "color": {"field": "curve", "type": "nominal",
          "scale": {"domain": ["Direct γ/π⁰ (RHIC 200 GeV)", "PHENIX Data (RHIC 200 GeV)", "Direct γ/π⁰ (LHC 2.76 TeV)"], "range": ["#000000", "#ff0000", "#0000ff"]},
          "legend": {"orient": "top-right", "offset": 0, "title": "p+p Ratios (NLO pQCD)", "titleFontSize": 12, "titlePadding": 5.5, "padding": 4,
            "labelFontSize": 11.5, "rowPadding": 7.3, "symbolSize": 95, "symbolOffset": 24.5, "labelOffset": 17.5,
            "fillColor": "#ffffff", "strokeColor": "#444444",
            "encode": {"symbols": {"update": {
              "shape": {"value": "M-4,0L4,0"},
              "fill": {"value": "transparent"},
              "stroke": {"signal": "indexof(datum.value,'PHENIX') >= 0 ? '#ff0000' : (indexof(datum.value,'LHC') >= 0 ? '#0000ff' : '#000000')"},
              "strokeWidth": {"value": 1.3}, "size": {"value": 95}, "opacity": {"value": 1}}}}}}
      },
      "layer": [
        {"transform": [{"filter": "datum.band != 'data'"}], "mark": {"type": "line", "clip": true, "strokeWidth": 1.1}, "encoding": {"detail": {"field": "band"}}},
        {"transform": [{"filter": "datum.band == 'data'"}], "mark": {"type": "rule", "clip": true, "strokeWidth": 1.5},
         "encoding": {"y": {"field": "lo", "type": "quantitative", "title": "Ratio Direct γ / π⁰ [proton-proton]"}, "y2": {"field": "hi"}}},
        {"transform": [{"filter": "datum.band == 'data'"}], "mark": {"type": "point", "filled": true, "opacity": 1, "size": 40, "clip": true}}
      ]
    },
    {
      "width": 291, "height": 292,
      "data": {"name": "aa"},
      "encoding": {
        "x": {"field": "x", "type": "quantitative", "scale": {"domain": [0, 30], "nice": false, "zero": false},
          "axis": {"title": "Transverse Momentum (GeV/c)", "titleAnchor": "end", "titleFontSize": 14, "titlePadding": 0, "labelFontSize": 14, "labelPadding": 5, "domainWidth": 1.5, "tickSize": -4.5,
            "values": [0,1,2,3,4,5,6,7,8,9,10,11,12,13,14,15,16,17,18,19,20,21,22,23,24,25,26,27,28,29,30],
            "labelExpr": "datum.value % 5 == 0 ? datum.label : ''",
            "encode": {"ticks": {"update": {"y2": {"signal": "datum.value % 5 == 0 ? -9 : -4.5"}}}}}},
        "y": {"field": "y", "type": "quantitative", "scale": {"type": "log", "domain": [0.0158, 12.7], "nice": false},
          "axis": {"title": "Ratio Direct γ / π⁰ [Au-Au/Pb-Pb Central]", "titleAnchor": "end", "titleFontSize": 14, "titlePadding": 2, "labelFontSize": 15, "labelPadding": 10, "domainWidth": 1.5, "tickSize": -5,
            "values": [0.02,0.03,0.04,0.05,0.06,0.07,0.08,0.09,0.1,0.2,0.3,0.4,0.5,0.6,0.7,0.8,0.9,1,2,3,4,5,6,7,8,9,10],
            "labelExpr": "abs(log(datum.value)/LN10 - round(log(datum.value)/LN10)) < 0.001 ? ['10⁻¹','1','10'][round(log(datum.value)/LN10)+1] : ''",
            "encode": {"ticks": {"update": {"x2": {"signal": "abs(log(datum.value)/LN10 - round(log(datum.value)/LN10)) < 0.001 ? 9 : 5"}}}}}},
        "color": {"field": "curve", "type": "nominal",
          "scale": {"domain": ["Direct γ/π⁰ (RHIC 200 GeV)", "PHENIX Data (RHIC 200 GeV)", "Direct γ/π⁰ (LHC 2.76 TeV)"], "range": ["#000000", "#ff0000", "#0000ff"]},
          "legend": {"orient": "none", "legendX": 73, "legendY": 0, "title": "Au+Au / Pb+Pb Ratios (Scaled NLO pQCD)", "titleFontSize": 7.8, "titlePadding": 7.5, "padding": 5,
            "labelFontSize": 7.8, "rowPadding": 5, "symbolSize": 95, "symbolOffset": 16, "labelOffset": 21,
            "fillColor": "#ffffff", "strokeColor": "#444444",
            "encode": {"symbols": {"update": {
              "shape": {"value": "M-4,0L4,0"},
              "fill": {"value": "transparent"},
              "stroke": {"signal": "indexof(datum.value,'PHENIX') >= 0 ? '#ff0000' : (indexof(datum.value,'LHC') >= 0 ? '#0000ff' : '#000000')"},
              "strokeWidth": {"value": 1.3}, "size": {"value": 95}, "opacity": {"value": 1}}}}}}
      },
      "layer": [
        {"transform": [{"filter": "datum.band != 'data'"}], "mark": {"type": "line", "clip": true, "strokeWidth": 1.1}, "encoding": {"detail": {"field": "band"}}},
        {"transform": [{"filter": "datum.band == 'data'"}], "mark": {"type": "rule", "clip": true, "strokeWidth": 1.5},
         "encoding": {"y": {"field": "lo", "type": "quantitative", "title": "Ratio Direct γ / π⁰ [Au-Au/Pb-Pb Central]"}, "y2": {"field": "hi"}}},
        {"transform": [{"filter": "datum.band == 'data'"}], "mark": {"type": "point", "filled": true, "opacity": 1, "size": 40, "clip": true}}
      ]
    }
  ],
  "spacing": 50,
  "bounds": "flush",
  "resolve": {"scale": {"color": "independent"}, "legend": {"color": "independent"}}
}
]
}
